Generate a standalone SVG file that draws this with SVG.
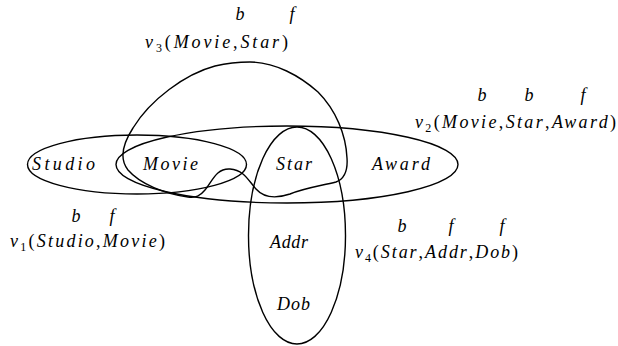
<svg xmlns="http://www.w3.org/2000/svg" width="618" height="346" viewBox="0 0 618 346">
<style>
.ln{fill:none;stroke:#000;stroke-width:1.4}
text{font-family:"Liberation Serif","Times New Roman",serif;font-size:18px;fill:#000}
.it{font-style:italic}
.up{font-style:normal}
.sub{font-style:normal;font-size:12px}
</style>
<rect width="618" height="346" fill="#fff"/>
<g id="connectors">
<path id="v3" class="ln" d="M250,62 C275,62 300,76 318,92 C336,110 346,135 347,158 C348,172 344,179 336,182 C320,186 305,188 290,194 C275,199 264,198 256,189 C248,180 244,170 230,169 C216,168 212,182 205,190 C200,196 196,198 188,197 C165,194 140,184 128,170 C120,160 122,145 133,128 C150,100 185,74 215,66 C232,62 242,62 250,62 Z"/>
</g>
<g id="v1">
<ellipse class="ln" cx="137" cy="164.5" rx="109.5" ry="29.5"/>
<text class="it" x="76" y="222" text-anchor="middle">b</text>
<text class="it" x="112" y="222" text-anchor="middle">f</text>
<text x="10" y="247" textLength="155" lengthAdjust="spacing"><tspan class="it">v</tspan><tspan class="sub" dy="4">1</tspan><tspan class="up" dy="-4">(</tspan><tspan class="it">Studio</tspan><tspan class="up">,</tspan><tspan class="it">Movie</tspan><tspan class="up">)</tspan></text>
</g>
<g id="v2">
<ellipse class="ln" cx="287" cy="164.5" rx="171" ry="38.5"/>
<text class="it" x="482" y="101" text-anchor="middle">b</text>
<text class="it" x="529" y="101" text-anchor="middle">b</text>
<text class="it" x="583" y="101" text-anchor="middle">f</text>
<text x="415" y="128" textLength="201" lengthAdjust="spacing"><tspan class="it">v</tspan><tspan class="sub" dy="4">2</tspan><tspan class="up" dy="-4">(</tspan><tspan class="it">Movie</tspan><tspan class="up">,</tspan><tspan class="it">Star</tspan><tspan class="up">,</tspan><tspan class="it">Award</tspan><tspan class="up">)</tspan></text>
</g>
<g id="v3label">
<text class="it" x="240" y="20" text-anchor="middle">b</text>
<text class="it" x="292" y="20" text-anchor="middle">f</text>
<text x="145" y="48" textLength="143" lengthAdjust="spacing"><tspan class="it">v</tspan><tspan class="sub" dy="4">3</tspan><tspan class="up" dy="-4">(</tspan><tspan class="it">Movie</tspan><tspan class="up">,</tspan><tspan class="it">Star</tspan><tspan class="up">)</tspan></text>
</g>
<g id="v4">
<ellipse class="ln" cx="297" cy="235.5" rx="48.5" ry="108.5"/>
<text class="it" x="402" y="232" text-anchor="middle">b</text>
<text class="it" x="451" y="232" text-anchor="middle">f</text>
<text class="it" x="502" y="232" text-anchor="middle">f</text>
<text x="355" y="258" textLength="163" lengthAdjust="spacing"><tspan class="it">v</tspan><tspan class="sub" dy="4">4</tspan><tspan class="up" dy="-4">(</tspan><tspan class="it">Star</tspan><tspan class="up">,</tspan><tspan class="it">Addr</tspan><tspan class="up">,</tspan><tspan class="it">Dob</tspan><tspan class="up">)</tspan></text>
</g>
<g id="attributes">
<text class="it" x="32" y="170" textLength="63" lengthAdjust="spacing">Studio</text>
<text class="it" x="143" y="170" textLength="55" lengthAdjust="spacing">Movie</text>
<text class="it" x="276" y="170" textLength="36" lengthAdjust="spacing">Star</text>
<text class="it" x="372" y="170" textLength="58" lengthAdjust="spacing">Award</text>
<text class="it" x="270" y="248" textLength="38" lengthAdjust="spacing">Addr</text>
<text class="it" x="277" y="310" textLength="33" lengthAdjust="spacing">Dob</text>
</g>
</svg>
